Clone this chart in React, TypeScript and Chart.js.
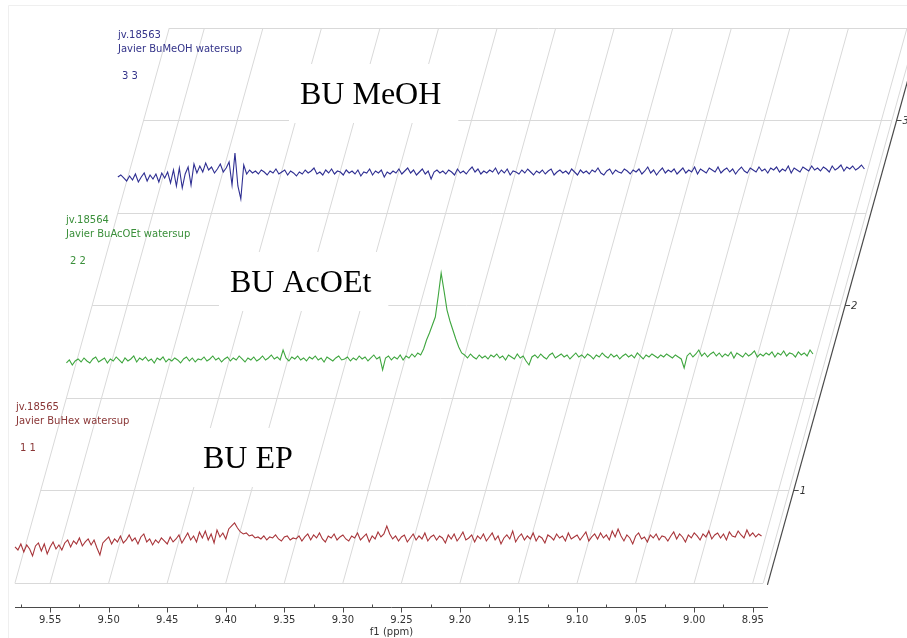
import React, { useEffect, useRef } from "react";
import { Chart, registerables } from "chart.js";
Chart.register(...registerables);

// ---- data ----
const ppmStart = 9.58;
const ppmStep = 0.0025;
const planeLeftPpm = 9.58;
const planeRightPpm = 8.941;
const axisEndPpm = 8.937;
const xMin = 8.82;
const xMax = 9.58;
const yMin = 0.37;
const yMax = 3.5;

const xTickValues = [9.55, 9.5, 9.45, 9.4, 9.35, 9.3, 9.25, 9.2, 9.15, 9.1, 9.05, 9.0, 8.95];
const xTickLabels = ["9.55", "9.50", "9.45", "9.40", "9.35", "9.30", "9.25", "9.20", "9.15", "9.10", "9.05", "9.00", "8.95"];
const xMinorTicks = [9.575, 9.525, 9.475, 9.425, 9.375, 9.325, 9.275, 9.225, 9.175, 9.125, 9.075, 9.025, 8.975];
const yTickValues = [1, 2, 3];
const yTickLabels = ["1", "2", "3"];
const gridLevels = [0.5, 1, 1.5, 2, 2.5, 3, 3.5];

const seriesNames = ["BU EP", "BU AcOEt", "BU MeOH"];
const seriesIds = ["jv.18565", "jv.18564", "jv.18563"];
const seriesTitles = ["Javier BuHex watersup", "Javier BuAcOEt watersup", "Javier BuMeOH watersup"];
const seriesNumbers = ["1 1", "2 2", "3 3"];
const seriesLevels = [0.7, 1.7, 2.7];
const intensityUnit = 0.0054;

const redValues = [
  -1, -4, 2, -6, 1, -3, -10, 0, 3, -5, 2, -8, -1, 4, -3, 1,
  -4, 3, 6, -1, 5, 2, 8, 0, 4, 7, 1, 6, -2, -9, 3, 6,
  9, 2, 7, 4, 10, 3, 6, 11, 5, 8, 2, 9, 12, 4, 7, 1,
  6, 3, 8, 5, 2, 9, 4, 7, 11, 3, 8, 13, 6, 10, 4, 14,
  8, 15, 6, 12, 3, 16, 9, 13, 7, 17, 20, 23, 18, 14, 12, 13,
  10, 11, 8, 9, 7, 10, 6, 9, 8, 11, 7, 5, 9, 10, 6, 8,
  7, 10, 5, 9, 12, 6, 11, 8, 13, 7, 4, 10, 8, 12, 6, 9,
  11, 7, 5, 10, 8, 13, 6, 9, 12, 4, 10, 7, 14, 9, 12, 20,
  12, 7, 10, 5, 9, 11, 4, 8, 12, 6, 10, 7, 13, 5, 9, 11,
  6, 10, 8, 3, 11, 7, 12, 5, 9, 14, 6, 8, 11, 4, 10, 7,
  12, 5, 9, 13, 6, 10, 2, 8, 11, 7, 15, 4, 9, 12, 6, 10,
  7, 13, 5, 10, 8, 3, 11, 9, 6, 12, 8, 10, 5, 13, 7, 9,
  11, 6, 10, 14, 5, 9, 12, 7, 13, 8, 11, 6, 15, 9, 17, 10,
  5, 11, 8, 2, 10, 13, 7, 9, 4, 11, 8, 12, 6, 10, 9, 5,
  10, 14, 7, 12, 9, 4, 11, 8, 13, 10, 6, 12, 9, 15, 7, 11,
  13, 8, 12, 6, 14, 10, 9, 15, 11, 8, 16, 10, 13, 9, 12, 10,
];

const greenValues = [
  -2, 1, -4, 0, 2, -1, 3, 0, -2, 2, 4, -1, 1, 3, -2, 2,
  0, 4, 1, -2, 3, 0, 2, 5, -1, 3, 1, 4, 0, 2, -2, 3,
  1, 4, -1, 2, 0, 3, 1, -2, 2, 4, 0, 3, -1, 2, 1, 4,
  0, 2, 5, 1, 3, -1, 2, 4, 0, 3, 1, 5, 2, -1, 3, 1,
  4, 0, 2, 5, 1, 3, 6, 2, 4, 1, 11, 3, 0, 4, 2, 5,
  1, 3, 0, 4, 2, 5, 1, 3, -1, 4, 2, 0, 3, 5, 1, 2,
  4, 0, 3, 1, 5, 2, 4, 0, 3, 6, 2, 4, -9, 3, 5, 1,
  4, 2, 6, 1, 5, 3, 7, 4, 8, 6, 12, 21, 28, 36, 44, 65,
  88, 70, 51, 40, 31, 22, 14, 8, 6, 3, 7, 4, 2, 6, 3, 5,
  2, 6, 4, 7, 3, 5, 1, 6, 4, 2, 7, 3, 5, 0, -4, 4,
  6, 3, 7, 4, 2, 6, 8, 3, 5, 7, 4, 6, 2, 5, 8, 4,
  6, 3, 7, 5, 2, 6, 4, 8, 5, 3, 7, 4, 6, 2, 5, 7,
  4, 6, 3, 8, 5, 2, 6, 4, 7, 5, 3, 6, 4, 7, 5, 3,
  6, 4, 2, -7, 5, 8, 4, 7, 11, 5, 8, 4, 7, 9, 5, 8,
  4, 7, 5, 9, 3, 8, 6, 4, 8, 5, 7, 10, 4, 7, 5, 8,
  6, 9, 4, 8, 6, 10, 5, 8, 7, 4, 9, 6, 8, 5, 11, 7,
];

const blueValues = [
  -1, 1, -2, -5, 0, -4, 2, -6, -1, 3, -5, 1, -3, 2, -6, 3,
  -2, 4, -7, 6, -10, 8, -12, 2, 9, -9, 12, 3, 10, 4, 13, 6,
  9, 3, 7, 12, 4, 8, 14, -9, 23, -10, -23, 11, 2, 6, 3, 5,
  2, 6, 4, 1, 5, 3, 7, 2, 4, 6, 1, 5, 3, 0, 4, 2,
  6, 3, 5, 8, 2, 4, 1, 6, 3, 7, 2, 5, 4, 1, 6, 3,
  5, 2, 6, 0, 4, 3, 7, 1, 5, 3, 6, -1, 4, 2, 5, 3,
  7, 2, 5, 8, 3, 6, 1, 4, 7, 2, 5, -3, 4, 6, 3, 5,
  2, 6, 4, 1, 7, 3, 5, 2, 6, 9, 4, 7, 2, 5, 3, 6,
  4, 8, 2, 6, 3, 7, 1, 5, 4, 2, 6, 3, 7, 4, 1, 5,
  3, 6, 2, 5, 7, 1, 4, 6, 3, 5, 2, 7, 4, 1, 6, 3,
  5, 2, 6, 4, 8, 3, 1, 5, 7, 2, 6, 4, 3, 7, 5, 2,
  6, 4, 7, 2, 5, 9, 3, 6, 1, 5, 8, 3, 6, 4, 7, 2,
  5, 8, 3, 6, 4, 9, 2, 7, 5, 3, 8, 6, 4, 9, 3, 6,
  8, 4, 7, 2, 6, 9, 5, 3, 8, 6, 4, 9, 5, 7, 3, 8,
  6, 9, 4, 7, 5, 10, 3, 8, 6, 4, 9, 7, 5, 10, 6, 8,
  5, 9, 7, 4, 10, 6, 8, 11, 5, 9, 7, 10, 6, 8, 11, 7,
];

const seriesValues = [redValues, greenValues, blueValues];

// ---- styles / layout ----
const lineColors = ["#a8353a", "#3fa63f", "#2f2f92"];
const textColors = ["#8a3636", "#3a8f3a", "#34348a"];
const SKEW = 0.278;
const headerPos = [
  { x: 16, y: 407 },
  { x: 66, y: 220 },
  { x: 118, y: 35 },
];
const bigLabelPos = [
  { x: 203, y: 468 },
  { x: 230, y: 292 },
  { x: 300, y: 104 },
];
const gridColor = "#d9d9d9";
const axisColor = "#4a4a4a";
const smallFont = "10px 'DejaVu Sans'";

const stackPlugin = {
  id: "stackedNmr",
  beforeDatasetsDraw(chart: any) {
    const { ctx, scales } = chart;
    const x = scales.x;
    const y = scales.y;
    const yb = y.getPixelForValue(0.5);
    const yt = y.getPixelForValue(3.5);
    const sk = (py: number) => SKEW * (yb - py);
    ctx.save();
    ctx.strokeStyle = "#efefef";
    ctx.lineWidth = 1;
    ctx.beginPath();
    ctx.moveTo(8.5, 640);
    ctx.lineTo(8.5, 5.5);
    ctx.lineTo(907, 5.5);
    ctx.stroke();

    ctx.strokeStyle = gridColor;
    ctx.lineWidth = 1;
    const slanted = [planeLeftPpm, ...xTickValues, planeRightPpm];
    for (const p of slanted) {
      const xb = x.getPixelForValue(p);
      ctx.beginPath();
      ctx.moveTo(xb, yb);
      ctx.lineTo(xb + sk(yt), yt);
      ctx.stroke();
    }
    for (const g of gridLevels) {
      const py = Math.round(y.getPixelForValue(g)) + 0.5;
      ctx.beginPath();
      ctx.moveTo(x.getPixelForValue(planeLeftPpm) + sk(py), py);
      ctx.lineTo(x.getPixelForValue(planeRightPpm) + sk(py), py);
      ctx.stroke();
    }

    ctx.font = smallFont;
    ctx.textBaseline = "middle";
    ctx.textAlign = "left";
    for (let i = 0; i < seriesIds.length; i++) {
      const hp = headerPos[i];
      ctx.fillStyle = textColors[i];
      ctx.fillText(seriesIds[i], hp.x, hp.y);
      ctx.fillText(seriesTitles[i], hp.x, hp.y + 14);
      ctx.fillText(seriesNumbers[i], hp.x + 4, hp.y + 41);
    }

    ctx.font = "32px 'Liberation Serif'";
    ctx.textBaseline = "alphabetic";
    for (let i = 0; i < seriesNames.length; i++) {
      const bp = bigLabelPos[i];
      const tw = ctx.measureText(seriesNames[i]).width;
      ctx.fillStyle = "#ffffff";
      ctx.fillRect(bp.x - 11, bp.y - 40, tw + 28, 59);
      ctx.fillStyle = "#000000";
      ctx.fillText(seriesNames[i], bp.x, bp.y);
    }
    ctx.restore();
  },
  beforeDatasetDraw(chart: any, args: any) {
    const { ctx, scales } = chart;
    const y = scales.y;
    const shift = SKEW * (y.getPixelForValue(0) - y.getPixelForValue(args.index));
    ctx.save();
    ctx.translate(shift, 0);
  },
  afterDatasetDraw(chart: any) {
    chart.ctx.restore();
  },
  afterDatasetsDraw(chart: any) {
    const { ctx, scales, chartArea } = chart;
    const x = scales.x;
    const y = scales.y;
    const yb = y.getPixelForValue(0.5);
    const sk = (py: number) => SKEW * (yb - py);
    const axY = Math.round(chartArea.bottom) + 0.5;
    ctx.save();
    ctx.strokeStyle = axisColor;
    ctx.lineWidth = 1;
    const ax0 = x.getPixelForValue(planeLeftPpm);
    const ax1 = x.getPixelForValue(axisEndPpm);
    ctx.beginPath();
    ctx.moveTo(ax0, axY);
    ctx.lineTo(ax1, axY);
    ctx.stroke();
    for (const p of xTickValues) {
      const px = Math.round(x.getPixelForValue(p)) + 0.5;
      ctx.beginPath();
      ctx.moveTo(px, axY);
      ctx.lineTo(px, axY + 5);
      ctx.stroke();
    }
    for (const p of xMinorTicks) {
      const px = Math.round(x.getPixelForValue(p)) + 0.5;
      ctx.beginPath();
      ctx.moveTo(px, axY - 3);
      ctx.lineTo(px, axY);
      ctx.stroke();
    }
    ctx.fillStyle = "#333333";
    ctx.font = smallFont;
    ctx.textAlign = "center";
    ctx.textBaseline = "middle";
    xTickValues.forEach((p, i) => {
      ctx.fillText(xTickLabels[i], x.getPixelForValue(p), axY + 13);
    });
    ctx.fillText("f1 (ppm)", (ax0 + ax1) / 2, axY + 25);

    const rb = x.getPixelForValue(axisEndPpm);
    const yTop = 0;
    const yBot = yb + 2;
    ctx.lineWidth = 1.2;
    ctx.beginPath();
    ctx.moveTo(rb + sk(yBot), yBot);
    ctx.lineTo(rb + sk(yTop), yTop);
    ctx.stroke();
    ctx.lineWidth = 1;
    ctx.font = "italic 10px 'DejaVu Sans'";
    ctx.textAlign = "left";
    yTickValues.forEach((v, i) => {
      const py = Math.round(y.getPixelForValue(v)) + 0.5;
      const px = rb + sk(py);
      ctx.beginPath();
      ctx.moveTo(px, py);
      ctx.lineTo(px + 5, py);
      ctx.stroke();
      ctx.fillText(yTickLabels[i], px + 6, py + 1);
    });
    ctx.restore();
  },
};

export default function App() {
  const canvasRef = useRef<HTMLCanvasElement | null>(null);
  useEffect(() => {
    const canvas = canvasRef.current;
    if (!canvas) return;
    const datasets = seriesValues.map((vals, s) => ({
      label: seriesNames[s],
      data: vals.map((v, i) => ({ x: ppmStart - i * ppmStep, y: seriesLevels[s] + v * intensityUnit })),
      borderColor: lineColors[s],
      borderWidth: 1.1,
      pointRadius: 0,
      showLine: true,
      fill: false,
      tension: 0,
      clip: false as any,
    }));
    const chart = new Chart(canvas, {
      type: "scatter",
      data: { datasets },
      options: {
        animation: false,
        responsive: false,
        devicePixelRatio: 1,
        layout: { padding: { left: 15, top: 28, right: 2, bottom: 31 } },
        plugins: { legend: { display: false }, tooltip: { enabled: false }, title: { display: false } },
        events: [],
        scales: {
          x: { type: "linear", min: xMin, max: xMax, reverse: true, display: false },
          y: { type: "linear", min: yMin, max: yMax, display: false },
        },
      },
      plugins: [stackPlugin],
    });
    return () => chart.destroy();
  }, []);
  return (
    <div style={{ position: "fixed", left: 0, top: 0, width: 907, height: 638, background: "#ffffff" }}>
      <canvas ref={canvasRef} width={907} height={638} style={{ width: 907, height: 638, display: "block" }} />
    </div>
  );
}
